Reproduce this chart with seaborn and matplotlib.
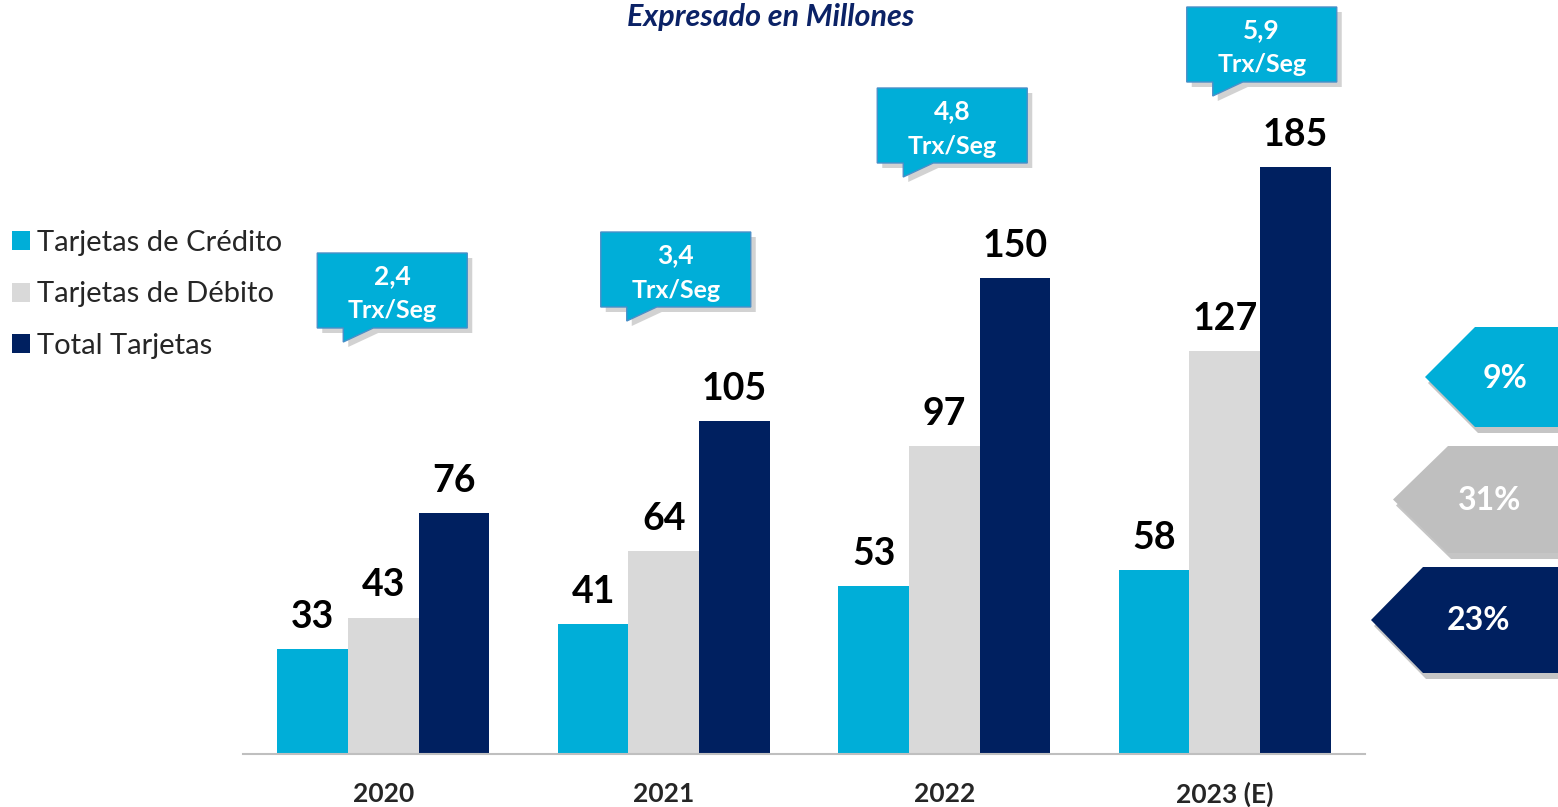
import matplotlib
matplotlib.use("Agg")
import matplotlib.pyplot as plt
import matplotlib.transforms as mtransforms
from matplotlib.patches import Polygon
import seaborn as sns
import pandas as pd

# Datos (millones de transacciones)
years = ["2020", "2021", "2022", "2023 (E)"]
credito = [33, 41, 53, 58]
debito = [43, 64, 97, 127]
total = [76, 105, 150, 185]
trx_seg = ["2,4", "3,4", "4,8", "5,9"]
crecimiento = ["9%", "31%", "23%"]
series = ["Tarjetas de Crédito", "Tarjetas de Débito", "Total Tarjetas"]

colores = ["#00AED8", "#D9D9D9", "#002060"]
colores_flecha = ["#00AED8", "#BFBFBF", "#002060"]
cian = "#00AED8"

df = pd.DataFrame({
    "Año": years * 3,
    "Serie": [s for s in series for _ in years],
    "Valor": credito + debito + total,
})

sns.set_style("white")
plt.rcParams["font.family"] = ["Lato", "DejaVu Sans"]

W, H = 1558, 807
fig = plt.figure(figsize=(W / 100, H / 100), dpi=100)
ax = fig.add_axes([243 / W, 53 / H, (1365 - 243) / W, 754 / H])

sns.barplot(data=df, x="Año", y="Valor", hue="Serie", hue_order=series,
            palette=colores, width=0.755, saturation=1, edgecolor="none", ax=ax)
ax.set_xlim(-0.5, 3.5)
ax.set_ylim(0, 237.6)

for c in ax.containers:
    ax.bar_label(c, padding=11, fontsize=27, fontweight="bold", color="black")

ax.set_xlabel("")
ax.set_ylabel("")
ax.set_yticks([])
ax.tick_params(axis="x", length=0, pad=20, labelsize=19)
for t in ax.get_xticklabels():
    t.set_fontweight("bold")
for s in ["left", "top", "right"]:
    ax.spines[s].set_visible(False)
ax.spines["bottom"].set_color("#BFBFBF")
ax.spines["bottom"].set_linewidth(1.5)

sns.move_legend(ax, "upper left", bbox_to_anchor=(12 / W, 1 - 230 / H),
                bbox_transform=fig.transFigure, title=None, frameon=False,
                fontsize=21, handlelength=0.62, handleheight=0.62,
                handletextpad=0.25, labelspacing=0.87, borderaxespad=0, borderpad=0)

# pixel coordinates, origin top-left
px = mtransforms.Affine2D().scale(1 / 100, -1 / 100).translate(0, H / 100) + fig.dpi_scale_trans

fig.text(771, 17, "Expresado en Millones", transform=px, ha="center", va="center",
         fontsize=22, fontweight="bold", style="italic", color="#0B2266")

# callouts Trx/Seg
bubble_dx = [-66, -63, -67, -38]
bubble_top = [253, 232, 88, 7]
for i, txt in enumerate(trx_seg):
    cx = ax.transData.transform((i, 0))[0]
    left = cx + bubble_dx[i]
    top = bubble_top[i]
    w, h = 150, 75
    b = top + h
    pts = [(left, top), (left + w, top), (left + w, b), (left + 56, b),
           (left + 26, b + 14), (left + 26, b), (left, b)]
    sh = [(x + 5, y + 5) for x, y in pts]
    fig.add_artist(Polygon(sh, closed=True, transform=px, facecolor="#7F7F7F",
                           edgecolor="none", alpha=0.35))
    fig.add_artist(Polygon(pts, closed=True, transform=px, facecolor=cian,
                           edgecolor="#4A8FC8", linewidth=1))
    fig.text(left + w / 2, top + 23, txt, transform=px, ha="center", va="center",
             fontsize=19, fontweight="bold", color="white")
    fig.text(left + w / 2, top + 58, "Trx/Seg", transform=px, ha="center", va="center",
             fontsize=18, fontweight="bold", color="white")

# flechas de crecimiento
flechas = [  # tip_x, top, bottom, slant_x, text_x
    (1425, 327, 427, 1475, 1505),
    (1393, 446, 553, 1448, 1490),
    (1371, 567, 673, 1423, 1478),
]
for (tip, top, bot, sx, tx), col, lab in zip(flechas, colores_flecha, crecimiento):
    mid = (top + bot) / 2
    pts = [(tip, mid), (sx, top), (W + 20, top), (W + 20, bot), (sx, bot)]
    sh = [(x + 3, y + 6) for x, y in pts]
    fig.add_artist(Polygon(sh, closed=True, transform=px, facecolor="#7F7F7F",
                           edgecolor="none", alpha=0.45))
    fig.add_artist(Polygon(pts, closed=True, transform=px, facecolor=col, edgecolor="none"))
    fig.text(tx, mid + 1, lab, transform=px, ha="center", va="center",
             fontsize=23, fontweight="bold", color="white")

fig.savefig("out.png", dpi=100)
